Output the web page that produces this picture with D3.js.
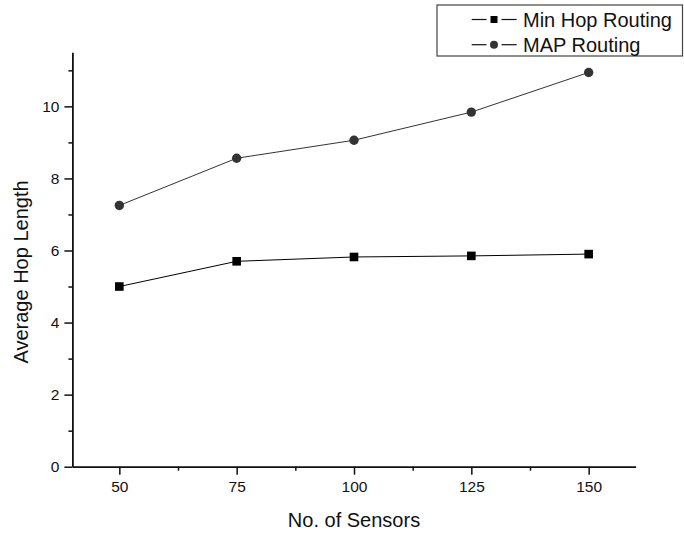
<!DOCTYPE html>
<html>
<head>
<meta charset="utf-8">
<script src="https://cdn.jsdelivr.net/npm/d3@7"></script>
<style>
  html, body { margin: 0; padding: 0; background: #fff; }
  svg { display: block; font-family: "Liberation Sans", Arial, sans-serif; }
</style>
</head>
<body>
<svg id="chart" width="684" height="533"></svg>
<script>
// ---- data ----
const sensors = [50, 75, 100, 125, 150];
const minHop = [5.0, 5.7, 5.82, 5.85, 5.9];
const mapRouting = [7.25, 8.56, 9.06, 9.84, 10.94];
const seriesNames = ["Min Hop Routing", "MAP Routing"];
const xMajorTicks = [50, 75, 100, 125, 150];
const xMinorTicks = [62.5, 87.5, 112.5, 137.5];
const yMajorTicks = [0, 2, 4, 6, 8, 10];
const yMinorTicks = [1, 3, 5, 7, 9, 11];
const xLabel = "No. of Sensors";
const yLabel = "Average Hop Length";

const svg = d3.select("#chart");
const x = d3.scaleLinear().domain([40, 160]).range([72.4, 635.6]);
const y = d3.scaleLinear().domain([0, 11.5]).range([466.7, 52.3]);

// axes
const xAxis = svg.append("g").attr("transform", `translate(0,${y(0)})`)
  .call(d3.axisBottom(x).tickValues(xMajorTicks).tickSize(8).tickSizeOuter(0).tickPadding(6));
const xMinor = svg.append("g").attr("transform", `translate(0,${y(0)})`)
  .call(d3.axisBottom(x).tickValues(xMinorTicks).tickSize(4).tickSizeOuter(0).tickFormat(""));
xMinor.select(".domain").remove();

const yAxis = svg.append("g").attr("transform", `translate(${x(40)},0)`)
  .call(d3.axisLeft(y).tickValues(yMajorTicks).tickSize(8).tickSizeOuter(0).tickPadding(5));
const yMinor = svg.append("g").attr("transform", `translate(${x(40)},0)`)
  .call(d3.axisLeft(y).tickValues(yMinorTicks).tickSize(4).tickSizeOuter(0).tickFormat(""));
yMinor.select(".domain").remove();

svg.selectAll(".domain").attr("stroke", "#111").attr("stroke-width", 1.8);
svg.selectAll(".tick line").attr("stroke", "#111").attr("stroke-width", 1.5);
svg.selectAll(".tick text").attr("font-size", 15.5).attr("fill", "#111")
  .attr("font-family", "'Liberation Sans', Arial, sans-serif");

// axis titles
svg.append("text").attr("x", 354).attr("y", 526.7).attr("text-anchor", "middle")
  .attr("font-size", 20).attr("fill", "#111").text(xLabel);
svg.append("text").attr("transform", `translate(27.5,272) rotate(-90)`).attr("text-anchor", "middle")
  .attr("font-size", 20).attr("fill", "#111").text(yLabel);

// lines
const line = d3.line().x(d => x(d[0])).y(d => y(d[1]));
const minData = sensors.map((s, i) => [s, minHop[i]]);
const mapData = sensors.map((s, i) => [s, mapRouting[i]]);

svg.append("path").datum(minData).attr("d", line).attr("fill", "none")
  .attr("stroke", "#000").attr("stroke-width", 1);
svg.append("path").datum(mapData).attr("d", line).attr("fill", "none")
  .attr("stroke", "#333").attr("stroke-width", 1);

svg.selectAll(".sq").data(minData).enter().append("rect")
  .attr("x", d => x(d[0]) - 4.3).attr("y", d => y(d[1]) - 4.3)
  .attr("width", 8.6).attr("height", 8.6).attr("fill", "#000");
svg.selectAll(".ci").data(mapData).enter().append("circle")
  .attr("cx", d => x(d[0])).attr("cy", d => y(d[1])).attr("r", 4.7).attr("fill", "#333");

// legend
const lg = svg.append("g");
lg.append("rect").attr("x", 437).attr("y", 5).attr("width", 245.5).attr("height", 51)
  .attr("fill", "#fff").attr("stroke", "#444").attr("stroke-width", 1.2);
const rows = [{name: seriesNames[0], sym: "square", ly: 19.5, ty: 27},
              {name: seriesNames[1], sym: "circle", ly: 44.7, ty: 51.7}];
rows.forEach(r => {
  lg.append("line").attr("x1", 471.7).attr("x2", 486.5).attr("y1", r.ly).attr("y2", r.ly)
    .attr("stroke", "#111").attr("stroke-width", 1.2);
  lg.append("line").attr("x1", 501.5).attr("x2", 516.7).attr("y1", r.ly).attr("y2", r.ly)
    .attr("stroke", "#111").attr("stroke-width", 1.2);
  if (r.sym === "square") {
    lg.append("rect").attr("x", 490.5).attr("y", r.ly - 3.5).attr("width", 7).attr("height", 7).attr("fill", "#000");
  } else {
    lg.append("circle").attr("cx", 494).attr("cy", r.ly).attr("r", 4).attr("fill", "#333");
  }
  lg.append("text").attr("x", 523).attr("y", r.ty).attr("font-size", 20).attr("fill", "#111").text(r.name);
});
</script>
</body>
</html>
